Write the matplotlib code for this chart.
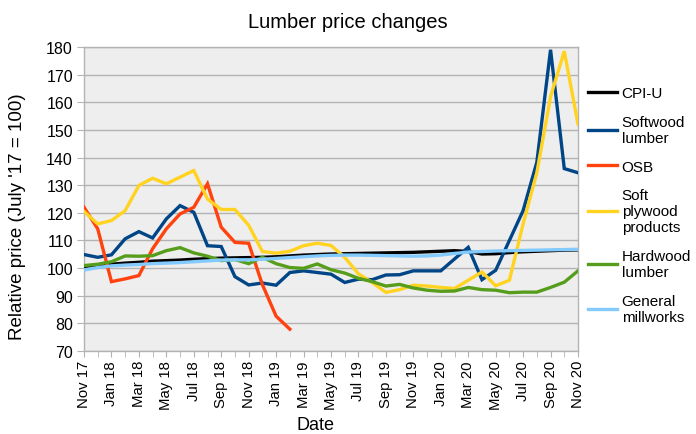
import matplotlib

matplotlib.use("Agg")

import matplotlib.pyplot as plt
import numpy as np
import pandas as pd


OUT_PATH = "out.png"

# Monthly categories, Nov 2017 .. Nov 2020
MONTHS = pd.date_range("2017-11-01", "2020-11-01", freq="MS").strftime("%b %y").tolist()

CPI_U = [100.6, 101.0, 101.4, 101.8, 102.1, 102.5, 102.7, 102.9, 103.2, 103.4,
         103.6, 103.7, 103.8, 103.9, 104.1, 104.4, 104.7, 104.9, 105.1, 105.2,
         105.3, 105.4, 105.5, 105.6, 105.7, 105.9, 106.1, 106.3, 106.0, 105.1,
         105.2, 105.6, 105.9, 106.1, 106.3, 106.5, 106.6]

SOFTWOOD = [104.9, 103.9, 104.8, 110.6, 113.2, 110.9, 117.8, 122.6, 120.2, 108.1,
            107.8, 96.9, 93.9, 94.6, 93.8, 98.4, 99.0, 98.4, 97.8, 94.8,
            96.0, 95.8, 97.5, 97.6, 99.0, 99.0, 99.0, 103.3, 107.5, 95.8,
            99.2, 110.0, 120.8, 138.3, 179.0, 136.0, 134.5]

# OSB series stops after Feb 2019
OSB = [122.0, 114.2, 95.1, 96.1, 97.3, 107.0, 114.2, 119.6, 122.0, 130.5,
       114.8, 109.3, 109.0, 94.0, 82.6, 77.9]

SOFT_PLYWOOD = [120.5, 116.0, 117.2, 120.8, 129.9, 132.5, 130.5, 132.9, 135.3, 125.0,
                121.2, 121.2, 115.5, 106.0, 105.4, 106.1, 108.1, 109.0, 108.2, 103.9,
                97.9, 94.8, 91.2, 92.2, 93.8, 93.5, 93.0, 92.6, 95.6, 98.6,
                93.6, 95.6, 116.0, 134.5, 162.0, 178.5, 152.1]

HARDWOOD = [100.9, 101.4, 102.3, 104.4, 104.3, 104.5, 106.3, 107.4, 105.5, 104.3,
            102.7, 103.1, 101.6, 103.9, 101.6, 100.2, 99.9, 101.5, 99.4, 98.2,
            96.3, 95.1, 93.5, 94.1, 92.8, 92.0, 91.6, 91.7, 93.0, 92.2,
            92.0, 91.1, 91.3, 91.3, 93.0, 94.9, 99.0]

MILLWORKS = [99.3, 100.2, 100.8, 101.1, 101.3, 101.6, 101.8, 102.0, 102.3, 102.6,
             102.9, 103.0, 103.0, 103.2, 103.5, 103.8, 104.1, 104.4, 104.6, 104.7,
             104.7, 104.6, 104.5, 104.4, 104.3, 104.4, 104.7, 105.3, 105.8, 106.0,
             106.2, 106.3, 106.4, 106.5, 106.6, 106.7, 106.8]

SERIES = [
    ("CPI-U", CPI_U, "#000000"),
    ("Softwood\nlumber", SOFTWOOD, "#004586"),
    ("OSB", OSB, "#ff420e"),
    ("Soft\nplywood\nproducts", SOFT_PLYWOOD, "#ffd320"),
    ("Hardwood\nlumber", HARDWOOD, "#579d1c"),
    ("General\nmillworks", MILLWORKS, "#83caff"),
]


def main() -> None:
    plt.rcParams["font.family"] = ["Liberation Sans", "DejaVu Sans"]

    fig = plt.figure(figsize=(6.96, 4.35), dpi=100)
    ax = fig.add_axes([84 / 696, 1 - 352 / 435, 494 / 696, 304 / 435])
    ax.set_facecolor("#eeeeee")

    x = np.arange(len(MONTHS))
    for label, values, color in SERIES:
        ax.plot(x[:len(values)], values, color=color, lw=2.4, label=label,
                solid_joinstyle="miter", zorder=3)

    ax.set_xlim(0, len(MONTHS) - 1)
    ax.set_ylim(70, 180)
    ax.set_yticks(np.arange(70, 181, 10))
    ax.set_xticks(x[::2])
    ax.set_xticklabels(MONTHS[::2], rotation=90)
    ax.set_xticks(x, minor=True)

    ax.grid(axis="y", color="#b3b3b3", lw=1.0, zorder=1)
    for spine in ax.spines.values():
        spine.set_color("#b3b3b3")
        spine.set_linewidth(1.0)

    ax.tick_params(axis="y", length=5, color="#b3b3b3", labelsize=11.5, pad=3)
    ax.tick_params(axis="x", which="both", length=4, color="#b3b3b3",
                   labelsize=10.7, pad=2.5)

    ax.set_xlabel("Date", fontsize=13)
    ax.xaxis.set_label_coords((315 - 84) / 494, -0.213)
    ax.set_ylabel("Relative price (July '17 = 100)", fontsize=13.5)
    ax.yaxis.set_label_coords(-0.118, 0.445)

    fig.suptitle("Lumber price changes", x=0.5, y=1 - 22 / 435, va="center",
                 fontsize=14.5)

    ax.legend(loc="center left", bbox_to_anchor=(1.008, 0.48), frameon=False,
              fontsize=11, handlelength=1.9, handletextpad=0.3,
              labelspacing=0.95, borderaxespad=0)

    fig.savefig(OUT_PATH, dpi=100)
    plt.close(fig)


if __name__ == "__main__":
    main()
